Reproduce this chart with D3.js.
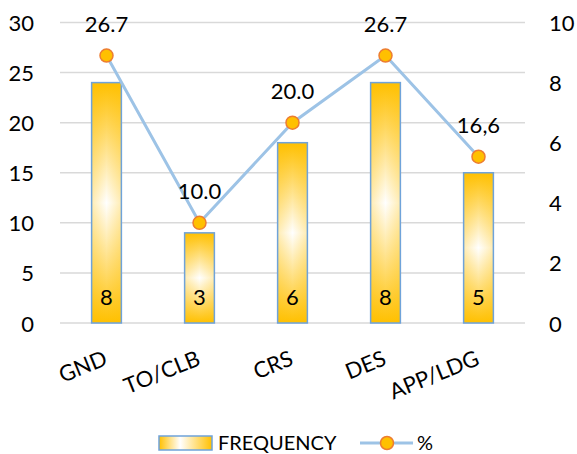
<!DOCTYPE html>
<html>
<head>
<meta charset="utf-8">
<title>Frequency by phase</title>
<script src="https://d3js.org/d3.v7.min.js"></script>
<style>
	body { margin: 0; background: #fff; }
	text { font-family: Lato, "Open Sans", sans-serif; fill: #000; }
</style>
</head>
<body>
<div id="chart"></div>
<script>

	var phases = ['GND', 'TO/CLB', 'CRS', 'DES', 'APP/LDG'];
	var frequency = [8, 3, 6, 8, 5];
	var percent = [26.7, 10.0, 20.0, 26.7, 16.6];
	var percentLabels = ['26.7', '10.0', '20.0', '26.7', '16,6'];
	var leftTicks = [0, 5, 10, 15, 20, 25, 30];
	var rightTicks = [0, 2, 4, 6, 8, 10];

	var width = 577;
	var height = 454;
	var plotLeft = 60, plotRight = 525, plotTop = 22.5, plotBottom = 323;
	var fontSize = 22;

	var svg = d3.select('#chart')
		.append('svg')
		.attr('width', width)
		.attr('height', height);

	var defs = svg.append('defs');

	var vGrad = defs.append('linearGradient')
		.attr('id', 'barV')
		.attr('x1', 0).attr('y1', 0).attr('x2', 0).attr('y2', 1);
	vGrad.append('stop').attr('offset', 0).attr('stop-color', '#FFC000');
	vGrad.append('stop').attr('offset', 0.5).attr('stop-color', '#FFFFFF');
	vGrad.append('stop').attr('offset', 1).attr('stop-color', '#FFC000');

	var hGrad = defs.append('linearGradient')
		.attr('id', 'barH')
		.attr('x1', 0).attr('y1', 0).attr('x2', 1).attr('y2', 0);
	hGrad.append('stop').attr('offset', 0).attr('stop-color', '#FFC000').attr('stop-opacity', 0.3);
	hGrad.append('stop').attr('offset', 0.5).attr('stop-color', '#FFC000').attr('stop-opacity', 0);
	hGrad.append('stop').attr('offset', 1).attr('stop-color', '#FFC000').attr('stop-opacity', 0.3);

	var legGrad = defs.append('linearGradient')
		.attr('id', 'legG')
		.attr('x1', 0).attr('y1', 0).attr('x2', 1).attr('y2', 0);
	legGrad.append('stop').attr('offset', 0).attr('stop-color', '#FFC000');
	legGrad.append('stop').attr('offset', 0.4).attr('stop-color', '#FFFFFF');
	legGrad.append('stop').attr('offset', 1).attr('stop-color', '#FFC000');

	var x = d3.scaleBand()
		.domain(phases)
		.range([plotLeft, plotRight])
		.paddingInner(0.68)
		.paddingOuter(0.34);

	var yLeft = d3.scaleLinear().domain([0, 30]).range([plotBottom, plotTop]);
	var yRight = d3.scaleLinear().domain([0, 10]).range([plotBottom, plotTop]);

	// grid
	svg.selectAll('.grid')
		.data(leftTicks)
		.enter()
		.append('line')
		.attr('x1', plotLeft)
		.attr('x2', plotRight)
		.attr('y1', function(d){ return yLeft(d); })
		.attr('y2', function(d){ return yLeft(d); })
		.attr('stroke', '#D9D9D9')
		.attr('stroke-width', 1.5);

	// left axis labels
	svg.selectAll('.lt')
		.data(leftTicks)
		.enter()
		.append('text')
		.attr('x', 34)
		.attr('y', function(d){ return yLeft(d) + 8.5; })
		.attr('text-anchor', 'end')
		.attr('font-size', fontSize)
		.text(function(d){ return d; });

	// right axis labels
	svg.selectAll('.rt')
		.data(rightTicks)
		.enter()
		.append('text')
		.attr('x', 549)
		.attr('y', function(d){ return yRight(d) + 8.5; })
		.attr('text-anchor', 'start')
		.attr('font-size', fontSize)
		.text(function(d){ return d; });

	// bars
	var bars = svg.selectAll('.bar')
		.data(frequency)
		.enter()
		.append('g');

	bars.append('rect')
		.attr('x', function(d, i){ return x(phases[i]); })
		.attr('y', function(d){ return yRight(d); })
		.attr('width', x.bandwidth())
		.attr('height', function(d){ return yRight(0) - yRight(d); })
		.attr('fill', 'url(#barV)');

	bars.append('rect')
		.attr('x', function(d, i){ return x(phases[i]); })
		.attr('y', function(d){ return yRight(d); })
		.attr('width', x.bandwidth())
		.attr('height', function(d){ return yRight(0) - yRight(d); })
		.attr('fill', 'url(#barH)')
		.attr('stroke', '#6FA3DA')
		.attr('stroke-width', 1.5);

	bars.append('text')
		.attr('x', function(d, i){ return x(phases[i]) + x.bandwidth() / 2; })
		.attr('y', plotBottom - 18)
		.attr('text-anchor', 'middle')
		.attr('font-size', fontSize)
		.text(function(d){ return d; });

	// line
	var line = d3.line()
		.x(function(d, i){ return x(phases[i]) + x.bandwidth() / 2; })
		.y(function(d){ return yLeft(d); });

	svg.append('path')
		.datum(percent)
		.attr('d', line)
		.attr('fill', 'none')
		.attr('stroke', '#9DC3E6')
		.attr('stroke-width', 3);

	svg.selectAll('.pt')
		.data(percent)
		.enter()
		.append('circle')
		.attr('cx', function(d, i){ return x(phases[i]) + x.bandwidth() / 2; })
		.attr('cy', function(d){ return yLeft(d); })
		.attr('r', 6.5)
		.attr('fill', '#FFC000')
		.attr('stroke', '#ED7D31')
		.attr('stroke-width', 1.5);

	svg.selectAll('.pl')
		.data(percent)
		.enter()
		.append('text')
		.attr('x', function(d, i){ return x(phases[i]) + x.bandwidth() / 2; })
		.attr('y', function(d){ return yLeft(d) - 23.5; })
		.attr('text-anchor', 'middle')
		.attr('font-size', fontSize)
		.text(function(d, i){ return percentLabels[i]; });

	// category labels
	svg.selectAll('.cat')
		.data(phases)
		.enter()
		.append('text')
		.attr('transform', function(d){
			return 'translate(' + (x(d) + x.bandwidth() / 2 - 4) + ',' + 349 + ') rotate(-22)';
		})
		.attr('dy', '0.75em')
		.attr('text-anchor', 'end')
		.attr('font-size', fontSize)
		.text(function(d){ return d; });

	// legend
	var leg = svg.append('g');
	leg.append('rect')
		.attr('x', 159).attr('y', 436)
		.attr('width', 53).attr('height', 14)
		.attr('fill', 'url(#legG)')
		.attr('stroke', '#6FA3DA')
		.attr('stroke-width', 1.5);
	leg.append('text')
		.attr('x', 218).attr('y', 450)
		.attr('font-size', 20)
		.text('FREQUENCY');
	leg.append('line')
		.attr('x1', 360).attr('x2', 413)
		.attr('y1', 443).attr('y2', 443)
		.attr('stroke', '#9DC3E6')
		.attr('stroke-width', 3);
	leg.append('circle')
		.attr('cx', 387).attr('cy', 443)
		.attr('r', 6.5)
		.attr('fill', '#FFC000')
		.attr('stroke', '#ED7D31')
		.attr('stroke-width', 1.5);
	leg.append('text')
		.attr('x', 417).attr('y', 450)
		.attr('font-size', 20)
		.text('%');

</script>
</body>
</html>
